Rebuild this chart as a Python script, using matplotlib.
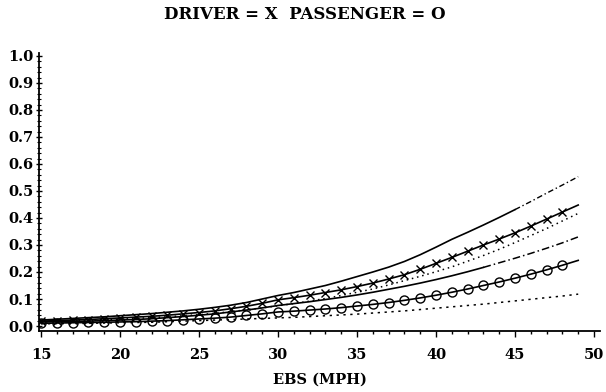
import matplotlib
matplotlib.use("Agg")
import matplotlib.pyplot as plt
from matplotlib.ticker import MultipleLocator, FixedLocator

speed = list(range(15, 50))  # 15..49 mph

driver_upper = [.022, .025, .028, .031, .034, .038, .042, .046, .051, .056,
                .062, .069, .077, .087, .100, .113, .124, .137, .150, .166,
                .183, .200, .218, .239, .264, .292, .321, .347, .374, .402,
                .431, .461, .492, .522, .553]
driver_est = [.018, .020, .022, .024, .027, .030, .033, .036, .040, .045,
              .050, .056, .064, .073, .084, .097, .105, .114, .124, .134,
              .146, .159, .174, .190, .210, .232, .254, .277, .300, .322,
              .345, .370, .396, .422, .448]
dotted_mid = [.016, .017, .019, .021, .023, .025, .028, .031, .034, .038,
              .042, .047, .053, .060, .067, .075, .083, .092, .102, .113,
              .125, .137, .152, .168, .184, .201, .219, .240, .261, .284,
              .309, .335, .361, .389, .417]
passenger_upper = [.015, .016, .017, .018, .020, .022, .024, .027, .031, .035,
                   .040, .045, .052, .059, .067, .076, .083, .090, .098, .106,
                   .115, .125, .136, .147, .159, .172, .186, .201, .217, .234,
                   .251, .269, .288, .308, .330]
passenger_est = [.010, .011, .012, .013, .014, .015, .016, .018, .020, .023,
                 .026, .029, .033, .039, .045, .052, .055, .059, .063, .068,
                 .074, .080, .087, .095, .104, .114, .125, .137, .150, .163,
                 .177, .192, .208, .225, .243]
passenger_lower = [.008, .009, .009, .010, .011, .012, .013, .014, .016, .018,
                   .020, .022, .024, .026, .028, .030, .032, .035, .038, .041,
                   .044, .048, .052, .056, .061, .066, .071, .076, .081, .087,
                   .093, .099, .105, .111, .118]

title = "DRIVER = X  PASSENGER = O"
xlabel = "EBS (MPH)"
xticks = [15, 20, 25, 30, 35, 40, 45, 50]
yticks = [0.0, 0.1, 0.2, 0.3, 0.4, 0.5, 0.6, 0.7, 0.8, 0.9, 1.0]

font = {"family": "DejaVu Serif", "weight": "bold"}

fig = plt.figure(figsize=(6.06, 3.92), dpi=100)
ax = fig.add_axes([39 / 606, 61 / 392, 561 / 606, 278 / 392])

def split(xs, ys, cut):
    a = [(x, y) for x, y in zip(xs, ys) if x <= cut]
    b = [(x, y) for x, y in zip(xs, ys) if x >= cut]
    return list(zip(*a)), list(zip(*b))

lw = 1.2
# driver upper: solid then dash-dot
(s1x, s1y), (s2x, s2y) = split(speed, driver_upper, 45)
ax.plot(s1x, s1y, color="black", lw=lw)
ax.plot(s2x, s2y, color="black", lw=1.0, ls=(0, (4, 2, 1, 2)))

# driver estimate with X markers
ax.plot(speed, driver_est, color="black", lw=lw)
ax.plot(speed[:-1], driver_est[:-1], ls="none", marker="x", ms=6, mew=1.0, color="black")

# dotted
ax.plot(speed, dotted_mid, color="black", lw=1.1, ls=(0, (1, 2.5)))

# passenger upper: solid then long dash
(m1x, m1y), (m2x, m2y) = split(speed, passenger_upper, 43)
ax.plot(m1x, m1y, color="black", lw=lw)
ax.plot(m2x, m2y, color="black", lw=1.1, ls=(0, (5, 2, 1, 2)))

# passenger estimate with O markers
ax.plot(speed, passenger_est, color="black", lw=lw)
ax.plot(speed[:-1], passenger_est[:-1], ls="none", marker="o", ms=6.5, mew=1.0,
        mfc="none", color="black")

# passenger lower dotted
ax.plot(speed, passenger_lower, color="black", lw=1.1, ls=(0, (1.5, 3)))

ax.set_xlim(14.87, 50.38)
ax.set_ylim(-0.0185, 1.011)

for s in ("top", "right"):
    ax.spines[s].set_visible(False)
for s in ("left", "bottom"):
    ax.spines[s].set_linewidth(1.3)

ax.xaxis.set_major_locator(FixedLocator(xticks))
ax.xaxis.set_minor_locator(MultipleLocator(1))
ax.yaxis.set_major_locator(FixedLocator(yticks))
ax.yaxis.set_minor_locator(MultipleLocator(0.02))
ax.set_xticklabels([str(t) for t in xticks], fontdict=font, fontsize=10.5)
ax.set_yticklabels([f"{t:.1f}" for t in yticks], fontdict=font, fontsize=10.5)
ax.tick_params(axis="x", which="major", direction="out", length=4, width=1, pad=8)
ax.tick_params(axis="x", which="minor", direction="out", length=2.5, width=1)
ax.tick_params(axis="y", which="major", direction="inout", length=5, width=1, pad=1.5)
ax.tick_params(axis="y", which="minor", direction="inout", length=3, width=0.8)

ax.set_xlabel(xlabel, fontdict=font, fontsize=10.5, labelpad=8)
fig.text(0.503, 0.962, title, ha="center", va="center", fontsize=12, **font)

fig.savefig("out.png", dpi=100, facecolor="white")
